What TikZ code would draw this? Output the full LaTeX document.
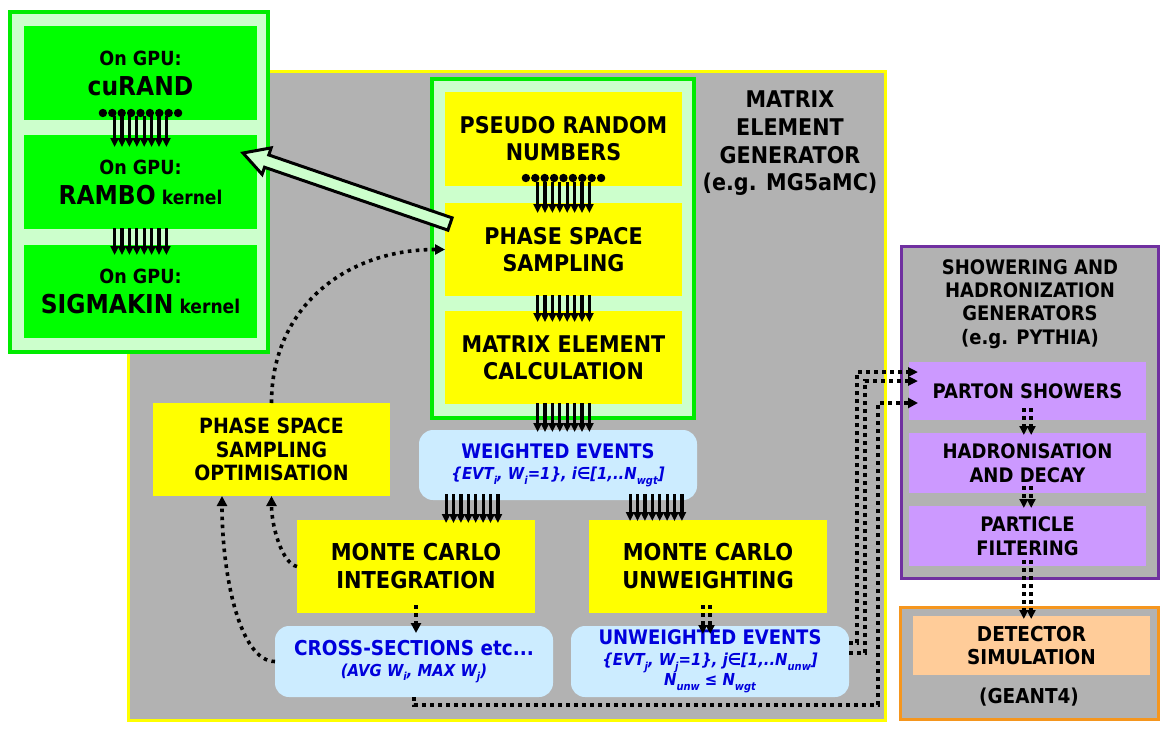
\documentclass[tikz,border=0pt]{standalone}
\usepackage{fontspec}
\setmainfont{DejaVu Sans}[FakeStretch=0.9]
\usetikzlibrary{arrows.meta,calc}
\definecolor{bggray}{RGB}{178,178,178}
\definecolor{ylw}{RGB}{255,255,0}
\definecolor{grn}{RGB}{0,255,0}
\definecolor{grnb}{RGB}{0,235,0}
\definecolor{lgrn}{RGB}{204,255,204}
\definecolor{lblue}{RGB}{204,236,255}
\definecolor{txtblue}{RGB}{0,0,220}
\definecolor{purp}{RGB}{112,48,160}
\definecolor{lpurp}{RGB}{204,153,255}
\definecolor{orng}{RGB}{245,150,30}
\definecolor{peach}{RGB}{255,204,153}
\newcommand\lsub[1]{\raisebox{-0.28em}{\fontsize{11}{11}\selectfont #1}}
\newcommand\arrbundle[2]{\foreach \k in {-3.5,-2.5,...,3.5}{\draw[bline] ($(#1)+(\k*7.4,0)$) -- ($(#2)+(\k*7.4,0)$);}}
\newcommand\dotrow[1]{\foreach \k in {-4,...,4}{\fill ($(#1)+(\k*9.4,0)$) circle (4.2pt);}}
\newcommand\ddarrow[2]{\foreach \k in {-1,1}{\draw[dotl,-{Triangle[width=8.5pt,length=9pt]}] ($(#1)+(\k*3.7,0)$) -- ($(#2)+(\k*3.7,0)$);}}
\begin{document}
\begin{tikzpicture}[x=1pt,y=-1pt,
 every node/.style={inner sep=0pt,outer sep=0pt},
 sz/.style 2 args={minimum width=#1pt,minimum height=#2pt,anchor=north west,align=center},
 txt/.style 2 args={font=\bfseries\fontsize{#1}{#2}\selectfont},
 bline/.style={line width=3.2pt,-{Triangle[width=8.2pt,length=9pt]}},
 dotl/.style={line width=3.6pt,dash pattern=on 3.6pt off 4.4pt},
 dotarrow/.style={dotl,-{Triangle[width=10pt,length=10pt]}},
 ybox/.style={fill=ylw,txt={23}{27}},
 bbox/.style={fill=lblue,rounded corners=14pt,text=txtblue},
 pbox/.style={fill=lpurp,txt={20}{24}},
 gbox/.style={fill=grn,txt={19.5}{30}},
 outerbox/.style={fill=bggray,line width=3pt},
]
\useasboundingbox (0,0) rectangle (1168,731);
\fill[white] (0,0) rectangle (1168,731);

% matrix element generator frame
\node[sz={757}{649},outerbox,draw=ylw] (meg) at (128,71) {};
\node[txt={23}{27.7},align=center] (meglabel) at (790,143.5) {MATRIX\\ELEMENT\\GENERATOR\\(e.g. MG5aMC)};

% GPU frame
\node[sz={258}{340},draw=grnb,line width=3.5pt,fill=lgrn] (gpu) at (10,12) {};
\node[sz={233}{94},gbox] (curand) at (24,26) {On GPU:\\{\fontsize{26}{30}\selectfont cuRAND}};
\node[sz={233}{94},gbox] (rambo) at (24,135) {On GPU:\\{\fontsize{26}{30}\selectfont RAMBO} {\fontsize{19}{30}\selectfont kernel}};
\node[sz={233}{93},gbox] (sigmakin) at (24,245) {On GPU:\\{\fontsize{26}{30}\selectfont SIGMAKIN} {\fontsize{19}{30}\selectfont kernel}};

% MEG inner
\node[sz={262}{339},draw=grnb,line width=4pt,fill=lgrn] (meginner) at (432,79) {};
\node[sz={237}{94},ybox] (prn) at (445,92) {PSEUDO RANDOM\\NUMBERS};
\node[sz={237}{93},ybox] (pss) at (445,203) {PHASE SPACE\\SAMPLING};
\node[sz={237}{93},ybox] (mec) at (445,311) {MATRIX ELEMENT\\CALCULATION};

\node[sz={278}{70},bbox,txt={20}{21}] (wev) at (419,430) {WEIGHTED EVENTS\\{\fontsize{16.5}{21}\selectfont\itshape \{EVT\lsub{i}, W\lsub{i}=1\}, i∈[1,..N\lsub{wgt}]}};
\node[sz={238}{93},ybox,txt={23.3}{28}] (mci) at (297,520) {MONTE CARLO\\INTEGRATION};
\node[sz={238}{93},ybox,txt={23.3}{28}] (mcu) at (589,520) {MONTE CARLO\\UNWEIGHTING};
\node[sz={237}{93},ybox,txt={21}{23.5}] (psso) at (153,403) {PHASE SPACE\\SAMPLING\\OPTIMISATION};
\node[sz={278}{71},bbox,txt={20.5}{21}] (xsec) at (275,626) {CROSS-SECTIONS etc...\\{\fontsize{16.5}{21}\selectfont\itshape (AVG W\lsub{i}, MAX W\lsub{j})}};
\node[sz={278}{71},bbox,txt={20}{20.5}] (uev) at (571,626) {UNWEIGHTED EVENTS\\{\fontsize{16.5}{20.5}\selectfont\itshape \{EVT\lsub{j}, W\lsub{j}=1\}, j∈[1,..N\lsub{unw}]}\\{\fontsize{16.5}{20.5}\selectfont\itshape N\lsub{unw} ≤ N\lsub{wgt}}};

% showering
\node[sz={257}{332},outerbox,draw=purp] (shg) at (901,246) {};
\node[txt={20}{23.3},align=center] (shgtitle) at (1030,304) {SHOWERING AND\\HADRONIZATION\\GENERATORS\\(e.g. PYTHIA)};
\node[sz={237}{58},pbox] (ps) at (909,362) {PARTON SHOWERS};
\node[sz={237}{60},pbox] (had) at (909,433) {HADRONISATION\\AND DECAY};
\node[sz={237}{60},pbox] (filt) at (909,506) {PARTICLE\\FILTERING};

% detector
\node[sz={258}{112},outerbox,draw=orng] (det) at (900,607) {};
\node[sz={237}{59},fill=peach,txt={20.5}{23}] (detsim) at (913,616) {DETECTOR\\SIMULATION};
\node[txt={20.5}{23}] (geant) at (1029,697) {(GEANT4)};

% bundles
\dotrow{[yshift=7pt]curand.south}
\arrbundle{[yshift=4pt]curand.south}{[yshift=-12pt]rambo.north}
\arrbundle{[yshift=1pt]rambo.south}{[yshift=-10pt]sigmakin.north}
\dotrow{[yshift=8pt]prn.south}
\arrbundle{[yshift=4pt]prn.south}{[yshift=-10pt]pss.north}
\arrbundle{[yshift=1pt]pss.south}{[yshift=-11pt]mec.north}
\path (wev.north -| mec.south) ++(0,2) coordinate (b3e);
\arrbundle{[yshift=1pt]mec.south}{b3e}
\arrbundle{[xshift=56pt,yshift=26pt]mci.north}{[xshift=56pt,yshift=-3pt]mci.north}
\arrbundle{[xshift=-52pt,yshift=26pt]mcu.north}{[xshift=-52pt,yshift=-1pt]mcu.north}

% dotted feedback arrows
\draw[dotarrow] (psso.north) .. controls +(0,-95) and +(-100,0) .. (pss.west);
\draw[dotarrow] (mci.west) .. controls +(-15,-3) and +(0,30) .. (psso.south);
\draw[dotarrow] (xsec.west) .. controls +(-35,0) and +(0,80) .. ([xshift=-49.5pt]psso.south);
\path (mci.south) ++(0,-8) coordinate (x0);
\path (mci.south |- xsec.north) ++(0,7) coordinate (x1);
\draw[dotarrow] (x0) -- (x1);
\path (mcu.south) ++(-1.5,-8) coordinate (m1);
\path (m1 |- uev.north) ++(0,8) coordinate (m2);
\ddarrow{m1}{m2}

% to parton showers
\coordinate (jr) at (878,705);
\path (ps.west) ++(9,12) coordinate (pt3);
\draw[dotarrow] (xsec.south) |- (jr) |- (pt3);
\path (uev.east) ++(0,-18.5) coordinate (ua0);
\path (ua0) ++(8,0) coordinate (ua1);
\path (ps.west) ++(9,-19) coordinate (pt1);
\draw[dotl,-{Triangle[width=9pt,length=10pt]}] (ua0) -- (ua1) |- (pt1);
\path (uev.east) ++(0,-8.5) coordinate (ub0);
\path (ub0) ++(16,0) coordinate (ub1);
\path (ps.west) ++(9,-10) coordinate (pt2);
\draw[dotl,-{Triangle[width=9pt,length=10pt]}] (ub0) -- (ub1) |- (pt2);

% right column
\path (ps.south) ++(0,-12) coordinate (d1);
\path (had.north) ++(0,2) coordinate (d2);
\ddarrow{d1}{d2}
\path (had.south) ++(0,-7) coordinate (d3);
\path (filt.north) ++(0,2) coordinate (d4);
\ddarrow{d3}{d4}
\path (filt.south) ++(0,-6) coordinate (d5);
\path (d5 |- detsim.north) ++(0,3) coordinate (d6);
\ddarrow{d5}{d6}

% hollow arrow to GPU
\path (rambo.east) ++(-14,-29) coordinate (hT);
\path (pss.west) ++(5,-25.5) coordinate (hS);
\path ($(hT)!25pt!(hS)$) coordinate (hH);
\draw[line width=3pt,fill=lgrn,line join=miter]
  ($(hS)!6.5pt!90:(hT)$) -- ($(hH)!6.5pt!90:(hT)$) -- ($(hH)!14pt!90:(hT)$) -- (hT)
  -- ($(hH)!14pt!-90:(hT)$) -- ($(hH)!6.5pt!-90:(hT)$) -- ($(hS)!6.5pt!-90:(hT)$) -- cycle;
\end{tikzpicture}
\end{document}
